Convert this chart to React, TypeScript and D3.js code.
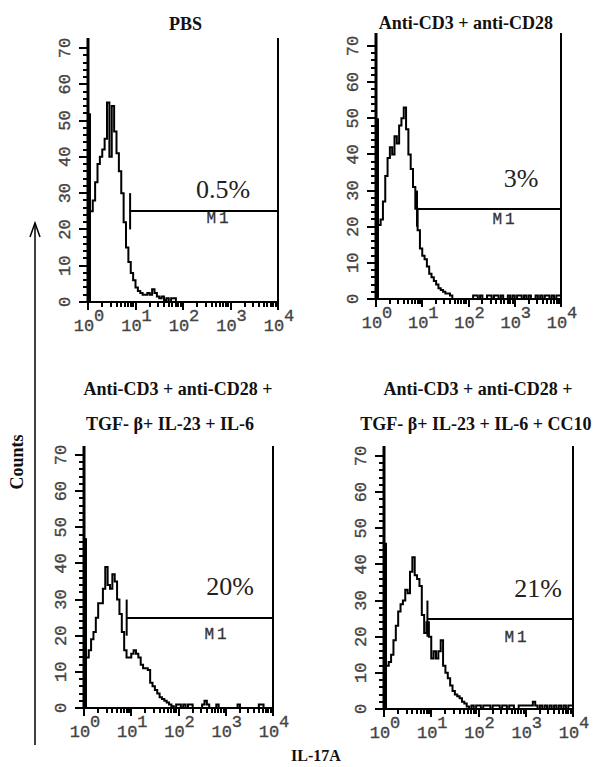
import React from 'react';
import * as d3 from 'd3';

// ---------- data ----------
const decades = [0, 1, 2, 3, 4];
const yTickValues = [0, 10, 20, 30, 40, 50, 60, 70];
const binWidth = 0.05; // log10 decades per histogram channel group
const binStarts = d3.range(80).map((i) => i * binWidth);

// counts per channel group; the first entry is the pile-up in the lowest channel
const pbsCounts = [
  52, 25, 28, 33, 38, 40, 42, 45, 55, 40, 54, 47, 41, 36, 30, 22, 15, 11, 8, 6,
  4, 3, 2.5, 2, 2, 2.5, 2, 3.5, 2.5, 1.5, 1, 1.5, 0.5, 1, 0, 1, 1, 0, 0, 0,
  0, 0, 0, 0, 0, 0, 0, 0, 0, 0, 0, 0, 0, 0, 0, 0, 0, 0, 0, 0,
  0, 0, 0, 0, 0, 0, 0, 0, 0, 0, 0, 0, 0, 0, 0, 0, 0, 0, 0, 0,
];
const cd3cd28Counts = [
  50, 20.5, 22, 27, 34, 39, 42, 40, 45, 43, 48, 50, 53, 47, 40, 36, 31, 25, 19, 14,
  12, 11, 9, 7, 6, 5, 4, 3, 2.5, 2, 1.5, 1.5, 1, 0, 0, 0, 0, 0, 0, 0,
  0, 0, 1, 1, 0, 1, 0, 0, 1, 1, 0, 1, 1, 0, 1, 0, 0, 1, 0, 1,
  0, 1, 1, 0, 1, 0, 1, 0, 0, 1, 0, 1, 0, 1, 1, 0, 1, 0, 1, 1,
];
const th17Counts = [
  47, 14, 16, 19, 21, 25, 29, 29, 33, 39, 34, 33, 37, 35, 30, 26, 21, 16, 14, 14,
  15, 16, 15, 14, 12, 11, 11, 10.5, 7, 6, 5, 4, 3, 2.5, 2, 1.5, 1, 0.5, 0, 1,
  1, 0, 1, 0, 1, 1, 0, 0, 0, 0, 1, 2, 1, 0, 0, 0, 1, 0, 0, 0,
  0, 0, 0, 0, 0, 1, 0, 0, 0, 0, 0, 0, 0, 0, 1, 1, 0, 0, 0, 0,
];
const th17Cc10Counts = [
  46, 12, 13, 15, 19, 23, 27, 29, 30, 33, 32, 38, 42, 37, 36, 34, 26, 21, 24, 20,
  14, 16, 14, 16, 19, 12, 10, 8.5, 6.5, 5, 4, 3.5, 3, 2, 1.5, 0.7, 0, 1, 0, 1,
  1, 0, 1, 1, 1, 0, 1, 1, 1, 0, 1, 1, 0, 1, 1, 0, 0, 1, 1, 1,
  1, 1, 1, 2, 1, 0, 1, 0, 1, 0, 1, 0, 1, 0, 1, 0, 1, 0, 1, 1,
];

const panelTitles = [
  ['PBS'],
  ['Anti-CD3 + anti-CD28'],
  ['Anti-CD3 + anti-CD28 +', 'TGF- β+ IL-23 + IL-6'],
  ['Anti-CD3 + anti-CD28 +', 'TGF- β+ IL-23 + IL-6 + CC10'],
];
const panelCounts = [pbsCounts, cd3cd28Counts, th17Counts, th17Cc10Counts];
const percentLabels = ['0.5%', '3%', '20%', '21%'];
const m1Start = [7.7, 7.7, 8.0, 8.3];
const m1Level = 25;
const markerName = 'M1';

// ---------- layout ----------
const layouts = [
  { x0: 88, x1: 278, y0: 302, y70: 48, yTop: 38, titleX: [185.5], titleY: [30], pct: [223, 198], m1: [219, 223] },
  { x0: 376, x1: 561, y0: 299, y70: 46, yTop: 33, titleX: [466], titleY: [29], pct: [521, 187], m1: [505, 224] },
  { x0: 84, x1: 273, y0: 708, y70: 455, yTop: 446, titleX: [178, 170], titleY: [395, 430], pct: [230, 595], m1: [217, 639] },
  { x0: 384, x1: 573, y0: 709, y70: 456, yTop: 446, titleX: [478, 476], titleY: [395, 430], pct: [538, 597], m1: [517, 642] },
];

const serif = '"Liberation Serif", "Times New Roman", serif';
const mono = '"Liberation Mono", "Courier New", monospace';

function Panel({ idx }: { idx: number }) {
  const L = layouts[idx];
  const counts = panelCounts[idx];
  const x = d3.scaleLinear().domain([0, 4]).range([L.x0, L.x1]);
  const y = d3.scaleLinear().domain([0, 70]).range([L.y0, L.y70]);

  // pile-up channel drawn on the axis; remaining channels as a step trace
  const pts: [number, number][] = [[0, counts[1]]];
  binStarts.forEach((b, i) => {
    if (i >= 2) pts.push([b, counts[i]]);
  });
  pts.push([4, counts[counts.length - 1]]);
  pts.push([4, 0]);
  const line = d3
    .line<[number, number]>()
    .x((d) => x(d[0]))
    .y((d) => y(d[1]))
    .curve(d3.curveStepAfter);

  const yMinor = d3.range(0, 71, 2);
  const xMinor: number[] = [];
  for (let d = 0; d < 4; d++) for (let k = 2; k <= 9; k++) xMinor.push(d + Math.log10(k));

  const gx = x(Math.log10(m1Start[idx]));

  return (
    <g>
      {panelTitles[idx].map((t, i) => (
        <text key={i} x={L.titleX[i]} y={L.titleY[i]} textAnchor="middle" fontFamily={serif} fontWeight="bold" fontSize={18} fill="#111">
          {t}
        </text>
      ))}
      {/* histogram */}
      <path d={line(pts) || ''} fill="none" stroke="#000" strokeWidth={2} strokeLinejoin="miter" />
      <line x1={L.x0 + 1} x2={L.x0 + 1} y1={y(0)} y2={y(counts[0])} stroke="#000" strokeWidth={4} />
      {/* axes */}
      <line x1={L.x0} x2={L.x0} y1={L.yTop} y2={L.y0 + 1} stroke="#000" strokeWidth={3} />
      <line x1={L.x0 - 1} x2={L.x1 + 1} y1={L.y0} y2={L.y0} stroke="#000" strokeWidth={2} />
      <line x1={L.x1} x2={L.x1} y1={L.yTop} y2={L.y0} stroke="#000" strokeWidth={2} />
      {yMinor.map((v) => (
        <line
          key={'yt' + v}
          x1={L.x0}
          x2={L.x0 - (v % 10 === 0 ? 9 : 5)}
          y1={Math.round(y(v))}
          y2={Math.round(y(v))}
          stroke="#000"
          strokeWidth={2}
        />
      ))}
      {yTickValues.map((v) => (
        <text
          key={'yl' + v}
          transform={`translate(${L.x0 - 23},${y(v)}) rotate(-90)`}
          textAnchor="middle"
          dominantBaseline="central"
          fontFamily={mono}
          fontSize={17}
          fill="#444"
          stroke="#444"
          strokeWidth={0.35}
        >
          {v}
        </text>
      ))}
      {xMinor.map((v, i) => (
        <line key={'xm' + i} x1={Math.round(x(v))} x2={Math.round(x(v))} y1={L.y0} y2={L.y0 + 5} stroke="#000" strokeWidth={2} />
      ))}
      {decades.map((d) => (
        <line key={'xM' + d} x1={Math.round(x(d))} x2={Math.round(x(d))} y1={L.y0} y2={L.y0 + 8} stroke="#000" strokeWidth={2} />
      ))}
      {decades.map((d) => (
        <text
          key={'xl' + d}
          x={x(d) + 1}
          y={L.y0 + 29}
          textAnchor="middle"
          fontFamily={mono}
          fontSize={17}
          fill="#444"
          stroke="#444"
          strokeWidth={0.35}
        >
          10<tspan dy={-10}>{d}</tspan>
        </text>
      ))}
      {/* M1 gate */}
      <line x1={gx} x2={L.x1} y1={Math.round(y(m1Level))} y2={Math.round(y(m1Level))} stroke="#000" strokeWidth={2} />
      <line x1={gx} x2={gx} y1={y(m1Level - 5)} y2={y(m1Level + 5)} stroke="#000" strokeWidth={2} />
      <text
        x={L.m1[0]}
        y={L.m1[1]}
        textAnchor="middle"
        fontFamily={mono}
        fontSize={16}
        letterSpacing={3}
        fill="#333"
        stroke="#333"
        strokeWidth={0.3}
      >
        {markerName}
      </text>
      <text x={L.pct[0]} y={L.pct[1]} textAnchor="middle" fontFamily={serif} fontSize={26} fill="#222">
        {percentLabels[idx]}
      </text>
    </g>
  );
}

export default function App() {
  return (
    <svg width={602} height={767} style={{ position: 'absolute', left: 0, top: 0, background: '#fff' }}>
      <rect width={602} height={767} fill="#fff" />
      {[0, 1, 2, 3].map((i) => (
        <Panel key={i} idx={i} />
      ))}
      <line x1={35} x2={35} y1={745} y2={223} stroke="#000" strokeWidth={1.5} />
      <path d="M30,237 L35,223 L40,237" fill="none" stroke="#000" strokeWidth={1.5} />
      <text transform="translate(23,462) rotate(-90)" textAnchor="middle" fontFamily={serif} fontWeight="bold" fontSize={18} fill="#111">
        Counts
      </text>
      <text x={316} y={761} textAnchor="middle" fontFamily={serif} fontWeight="bold" fontSize={16} fill="#111">
        IL-17A
      </text>
    </svg>
  );
}
